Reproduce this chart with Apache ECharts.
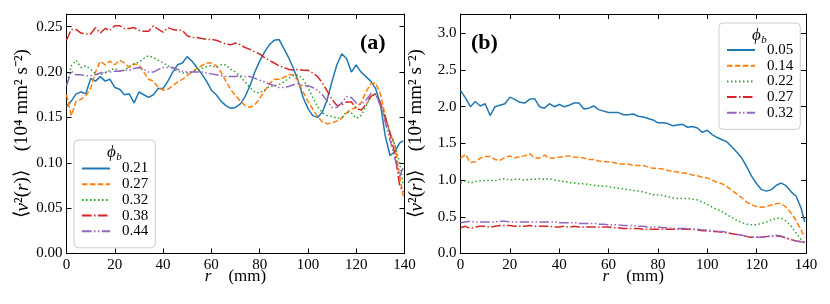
<!DOCTYPE html>
<html><head><meta charset="utf-8">
<script src="https://cdn.jsdelivr.net/npm/echarts@6/dist/echarts.min.js"></script>
<style>html,body{margin:0;padding:0;background:#fff}#c{width:830px;height:304px}</style>
</head><body><div id="c"></div>
<script>
// ---------- data ----------
const rA = [0,2,4,6,8,10,12,14,16,18,20,22,24,26,28,30,32,34,36,38,40,42,44,46,48,50,52,54,56,58,60,62,64,66,68,70,72,74,76,78,80,82,84,86,88,90,92,94,96,98,100,102,104,106,108,110,112,114,116,118,120,122,124,126,128,130,132,134,136,138,139.5];
const rB = rA.slice();
const namesA = ['0.21','0.27','0.32','0.38','0.44'];
const namesB = ['0.05','0.14','0.22','0.27','0.32'];
const xTicks = [0,20,40,60,80,100,120,140];
const yTicksA = [0,0.05,0.10,0.15,0.20,0.25];
const yTicksB = [0,0.5,1.0,1.5,2.0,2.5,3.0];

const a021 = [0.162,0.168,0.176,0.178,0.176,0.193,0.190,0.195,0.190,0.192,
0.183,0.181,0.175,0.176,0.166,0.178,0.175,0.172,0.175,0.182,
0.182,0.190,0.200,0.208,0.210,0.217,0.212,0.205,0.198,0.190,
0.180,0.175,0.168,0.163,0.160,0.161,0.165,0.173,0.185,0.200,
0.212,0.222,0.230,0.235,0.236,0.226,0.216,0.204,0.190,0.172,
0.160,0.152,0.150,0.156,0.170,0.190,0.208,0.220,0.215,0.200,
0.208,0.200,0.195,0.190,0.182,0.165,0.130,0.108,0.112,0.122,
0.124];
const a027 = [0.175,0.152,0.168,0.170,0.174,0.182,0.200,0.212,0.208,0.212,
0.208,0.213,0.210,0.205,0.209,0.208,0.200,0.192,0.190,0.183,
0.180,0.181,0.185,0.189,0.192,0.196,0.200,0.204,0.207,0.210,
0.210,0.207,0.200,0.190,0.181,0.174,0.168,0.163,0.161,0.164,
0.171,0.179,0.187,0.192,0.192,0.194,0.197,0.197,0.190,0.178,
0.168,0.159,0.151,0.145,0.143,0.144,0.146,0.149,0.155,0.159,
0.161,0.166,0.178,0.187,0.188,0.176,0.152,0.133,0.120,0.085,
0.063];
const a032 = [0.185,0.207,0.213,0.205,0.207,0.203,0.198,0.197,0.199,0.202,
0.204,0.201,0.202,0.206,0.209,0.211,0.215,0.218,0.216,0.213,
0.210,0.207,0.204,0.201,0.199,0.199,0.200,0.202,0.204,0.206,
0.207,0.205,0.208,0.208,0.203,0.200,0.195,0.189,0.183,0.178,
0.177,0.180,0.184,0.185,0.186,0.189,0.193,0.196,0.197,0.192,
0.183,0.172,0.162,0.155,0.152,0.151,0.149,0.150,0.156,0.155,
0.149,0.152,0.162,0.173,0.176,0.164,0.148,0.133,0.120,0.100,
0.075];
const a038 = [0.235,0.247,0.247,0.243,0.242,0.242,0.249,0.243,0.248,0.246,
0.251,0.251,0.248,0.248,0.249,0.246,0.245,0.245,0.251,0.247,
0.244,0.249,0.247,0.246,0.246,0.240,0.238,0.238,0.237,0.236,
0.236,0.235,0.233,0.231,0.230,0.232,0.230,0.227,0.225,0.222,
0.220,0.216,0.213,0.210,0.207,0.205,0.203,0.202,0.203,0.202,
0.202,0.199,0.195,0.188,0.179,0.170,0.163,0.164,0.167,0.167,
0.160,0.158,0.164,0.173,0.176,0.166,0.151,0.132,0.110,0.075,
0.068];
const a044 = [0.185,0.201,0.197,0.197,0.196,0.196,0.197,0.199,0.200,0.200,
0.201,0.201,0.202,0.202,0.204,0.205,0.203,0.200,0.200,0.203,
0.205,0.205,0.205,0.203,0.201,0.200,0.200,0.200,0.200,0.199,
0.198,0.197,0.196,0.195,0.195,0.195,0.196,0.195,0.195,0.193,
0.191,0.189,0.187,0.185,0.183,0.183,0.184,0.186,0.187,0.185,
0.185,0.183,0.180,0.175,0.168,0.161,0.161,0.166,0.173,0.172,
0.166,0.164,0.169,0.176,0.176,0.163,0.145,0.125,0.105,0.085,
0.095];

const b005 = [2.22,2.12,2.00,2.07,2.01,2.04,1.88,2.00,2.02,2.04,
2.13,2.10,2.06,2.05,2.10,2.11,2.00,1.98,2.04,2.00,
2.03,2.00,2.02,2.05,2.05,1.97,1.98,2.01,1.96,1.94,
1.92,1.92,1.92,1.89,1.89,1.90,1.87,1.86,1.84,1.82,
1.78,1.78,1.77,1.74,1.75,1.76,1.72,1.73,1.71,1.65,
1.68,1.62,1.58,1.55,1.52,1.45,1.38,1.30,1.18,1.05,
0.95,0.87,0.85,0.87,0.93,0.96,0.92,0.84,0.78,0.62,
0.43];
const b014 = [1.30,1.35,1.24,1.25,1.30,1.32,1.32,1.28,1.27,1.31,
1.33,1.30,1.32,1.33,1.36,1.30,1.30,1.34,1.30,1.30,
1.31,1.32,1.33,1.31,1.31,1.30,1.28,1.28,1.26,1.25,
1.25,1.24,1.22,1.22,1.22,1.20,1.20,1.20,1.18,1.16,
1.16,1.15,1.13,1.12,1.11,1.10,1.09,1.07,1.06,1.04,
1.03,1.00,0.97,0.95,0.91,0.86,0.81,0.76,0.70,0.66,
0.64,0.63,0.64,0.66,0.68,0.68,0.63,0.55,0.45,0.32,
0.22];
const b022 = [0.96,0.99,0.96,0.98,0.99,0.99,1.00,0.99,1.01,1.02,
1.00,1.01,1.01,1.00,1.01,1.01,1.02,1.01,1.02,1.00,
0.99,0.98,0.97,0.96,0.95,0.95,0.94,0.93,0.92,0.92,
0.91,0.90,0.89,0.88,0.87,0.86,0.85,0.84,0.82,0.80,
0.80,0.79,0.77,0.76,0.75,0.75,0.75,0.74,0.73,0.70,
0.67,0.63,0.60,0.57,0.53,0.49,0.45,0.42,0.40,0.39,
0.39,0.41,0.43,0.46,0.48,0.48,0.44,0.37,0.28,0.19,
0.15];
const b027 = [0.35,0.37,0.34,0.36,0.37,0.37,0.36,0.37,0.38,0.38,
0.38,0.37,0.37,0.37,0.38,0.37,0.37,0.37,0.37,0.36,
0.36,0.37,0.36,0.37,0.36,0.36,0.36,0.36,0.36,0.36,
0.36,0.35,0.35,0.34,0.34,0.34,0.34,0.33,0.33,0.33,
0.33,0.33,0.33,0.33,0.33,0.33,0.33,0.33,0.32,0.31,
0.31,0.30,0.30,0.29,0.28,0.27,0.26,0.25,0.23,0.22,
0.22,0.22,0.23,0.24,0.24,0.23,0.21,0.19,0.17,0.16,
0.15];
const b032 = [0.42,0.43,0.44,0.43,0.43,0.43,0.43,0.43,0.44,0.44,
0.43,0.43,0.43,0.43,0.43,0.43,0.43,0.43,0.43,0.43,
0.42,0.42,0.42,0.42,0.41,0.41,0.41,0.41,0.40,0.40,
0.39,0.39,0.39,0.38,0.38,0.38,0.37,0.37,0.36,0.36,
0.36,0.35,0.35,0.34,0.34,0.34,0.34,0.33,0.33,0.32,
0.32,0.31,0.30,0.30,0.29,0.27,0.26,0.25,0.23,0.22,
0.22,0.22,0.23,0.24,0.25,0.24,0.21,0.19,0.17,0.16,
0.15];

// ---------- styles ----------
const COLORS = ['#1f77b4','#ff7f0e','#2ca02c','#d62728','#9467bd'];
const DASH = ['solid',[5.5,2.4],[1.5,2.5],[9.6,2.4,1.5,2.4],[9.6,2.4,1.5,2.4,1.5,2.4]];
const FONT = '"Liberation Serif","Times New Roman",serif';

const chart = echarts.init(document.getElementById('c'), null, {renderer:'canvas'});

function xAx(grid, pos, showLabel, name){
  return {
    type:'value', gridIndex:grid, position:pos, min:0, max:140, interval:20,
    axisLine:{show:true, onZero:false, lineStyle:{color:'#000', width:1}},
    axisTick:{show:true, inside:true, length:5, lineStyle:{color:'#000'}},
    axisLabel:{show:showLabel, color:'#000', fontFamily:FONT, fontSize:15, margin:4},
    splitLine:{show:false},
    name: name || '', nameLocation:'middle', nameGap:23, nameMoveOverlap:false,
    nameTextStyle:{color:'#000', fontFamily:FONT, fontSize:17, verticalAlign:'middle',
      rich:{i:{fontStyle:'italic', fontFamily:FONT, fontSize:17, color:'#000'}}}
  };
}
function yAx(grid, pos, showLabel, max, interval, digits, name){
  return {
    type:'value', gridIndex:grid, position:pos, min:0, max:max, interval:interval,
    axisLine:{show:true, onZero:false, lineStyle:{color:'#000', width:1}},
    axisTick:{show:true, inside:true, length:5, lineStyle:{color:'#000'}},
    axisLabel:{show:showLabel, color:'#000', fontFamily:FONT, fontSize:15, margin:4,
      showMaxLabel:false, formatter:v=>v.toFixed(digits)},
    splitLine:{show:false},
    name: name || '', nameLocation:'middle', nameGap:44, nameRotate:90, nameMoveOverlap:false,
    nameTextStyle:{color:'#000', fontFamily:FONT, fontSize:19, verticalAlign:'middle',
      rich:{i:{fontStyle:'italic', fontFamily:FONT, fontSize:19, color:'#000'}}}
  };
}
const yName = '⟨{i|v}²({i|r})⟩    (10⁴ mm² s⁻²)';
const xName = '{i|r}    (mm)';

const series = [];
[[a021,a027,a032,a038,a044],[b005,b014,b022,b027,b032]].forEach((set, p)=>{
  const xs = p===0 ? rA : rB;
  const names = p===0 ? namesA : namesB;
  set.forEach((vals, k)=>{
    series.push({
      type:'line', name:(p===0?'A':'B')+names[k], xAxisIndex:p*2, yAxisIndex:p*2,
      data: xs.map((r,i)=>[r, vals[i]]),
      showSymbol:false, symbol:'none', smooth:false, animation:false,
      lineStyle:{color:COLORS[k], width:1.5, type:DASH[k]},
      itemStyle:{color:COLORS[k]}
    });
  });
});

function legend(prefix, names, left, top, padTop){
  return {
    data:names.map(n=>prefix+n), orient:'vertical', left:left, top:top,
    formatter:n=>n.slice(1),
    padding:[padTop,7,9,7], itemWidth:28, itemHeight:10, itemGap:0.7,
    itemStyle:{opacity:0, color:'transparent', borderWidth:0},
    backgroundColor:'rgba(255,255,255,0.8)', borderColor:'#cccccc', borderWidth:1, borderRadius:4,
    textStyle:{color:'#000', fontFamily:FONT, fontSize:15, lineHeight:15, padding:[0,0,0,7]},
    selectedMode:false
  };
}

chart.setOption({
  animation:false,
  color:COLORS,
  grid:[
    {left:66.5, top:14, width:338, height:239.5},
    {left:460.5, top:14, width:345.5, height:239.5}
  ],
  xAxis:[ xAx(0,'bottom',true,xName), xAx(0,'top',false), xAx(1,'bottom',true,xName), xAx(1,'top',false) ],
  yAxis:[ yAx(0,'left',true,0.264,0.05,2,yName), yAx(0,'right',false,0.264,0.05,2),
          yAx(1,'left',true,3.263,0.5,1,yName), yAx(1,'right',false,3.263,0.5,1) ],
  legend:[ legend('A',namesA,74,140,21), legend('B',namesB,719,23,19.5) ],
  series:series,
  graphic:[
    {type:'text', z:100, left:360, top:32, style:{text:'(a)', font:'bold 22px '+FONT, fill:'#000'}},
    {type:'text', z:100, left:471, top:32, style:{text:'(b)', font:'bold 22px '+FONT, fill:'#000'}},
    {type:'text', z:100, x:111.5, y:153, style:{text:'ϕ', font:'italic 17px '+FONT, fill:'#000', align:'center', verticalAlign:'middle'}},
    {type:'text', z:100, x:119, y:157, style:{text:'b', font:'italic 11px '+FONT, fill:'#000', align:'center', verticalAlign:'middle'}},
    {type:'text', z:100, x:756.5, y:36, style:{text:'ϕ', font:'italic 17px '+FONT, fill:'#000', align:'center', verticalAlign:'middle'}},
    {type:'text', z:100, x:764, y:40, style:{text:'b', font:'italic 11px '+FONT, fill:'#000', align:'center', verticalAlign:'middle'}}
  ]
});
</script></body></html>
